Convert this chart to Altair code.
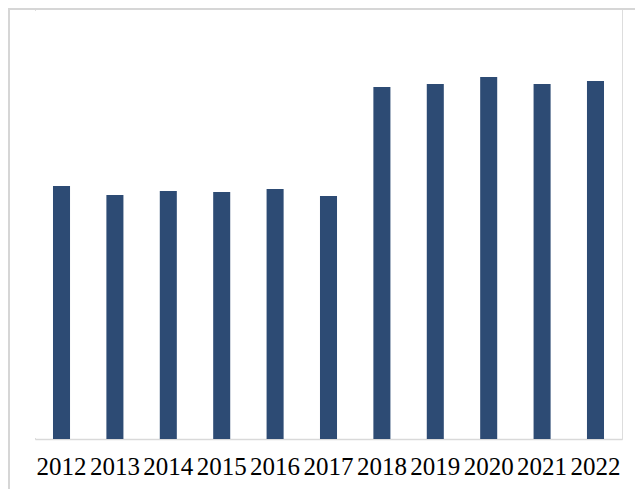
import altair as alt
import pandas as pd

years = ["2012", "2013", "2014", "2015", "2016", "2017", "2018", "2019", "2020", "2021", "2022"]
values = [253, 244, 248, 247, 250, 243, 352, 355, 362, 355, 358]

df = pd.DataFrame({"year": years, "value": values})

W, H = 587, 430

bars = alt.Chart(df).mark_bar(color="#2D4B74").encode(
    x=alt.X("year:N", sort=years,
            scale=alt.Scale(paddingInner=0.681, paddingOuter=0.337),
            axis=alt.Axis(title=None, labelAngle=0, ticks=False, domainColor="#d9d9d9",
                          domainWidth=1.5, labelFont="Liberation Serif", labelFontSize=25,
                          labelColor="#000000", labelPadding=15, grid=False)),
    y=alt.Y("value:Q", scale=alt.Scale(domain=[0, 430], nice=False), axis=None),
)

border_top = alt.Chart(df).mark_rule(color="#d6d6d6", strokeWidth=2).encode(
    x=alt.value(-27), x2=alt.value(W + 20), y=alt.value(0)
)
border_left = alt.Chart(df).mark_rule(color="#d6d6d6", strokeWidth=2).encode(
    x=alt.value(-26), y=alt.value(-1), y2=alt.value(H + 60)
)
mask = alt.Chart(df).mark_rule(color="#ffffff", strokeWidth=3).encode(
    x=alt.value(0), y=alt.value(2), y2=alt.value(H - 1)
)

chart = alt.layer(border_top, border_left, bars, mask).properties(
    width=W, height=H,
    autosize=alt.AutoSizeParams(type="none"),
    padding={"left": 27, "top": 1, "right": 13, "bottom": 50},
).configure_view(stroke="#ffffff", fill="#ffffff").configure(background="white")

chart.save("out.html", embed_options={"renderer": "svg", "actions": False})
